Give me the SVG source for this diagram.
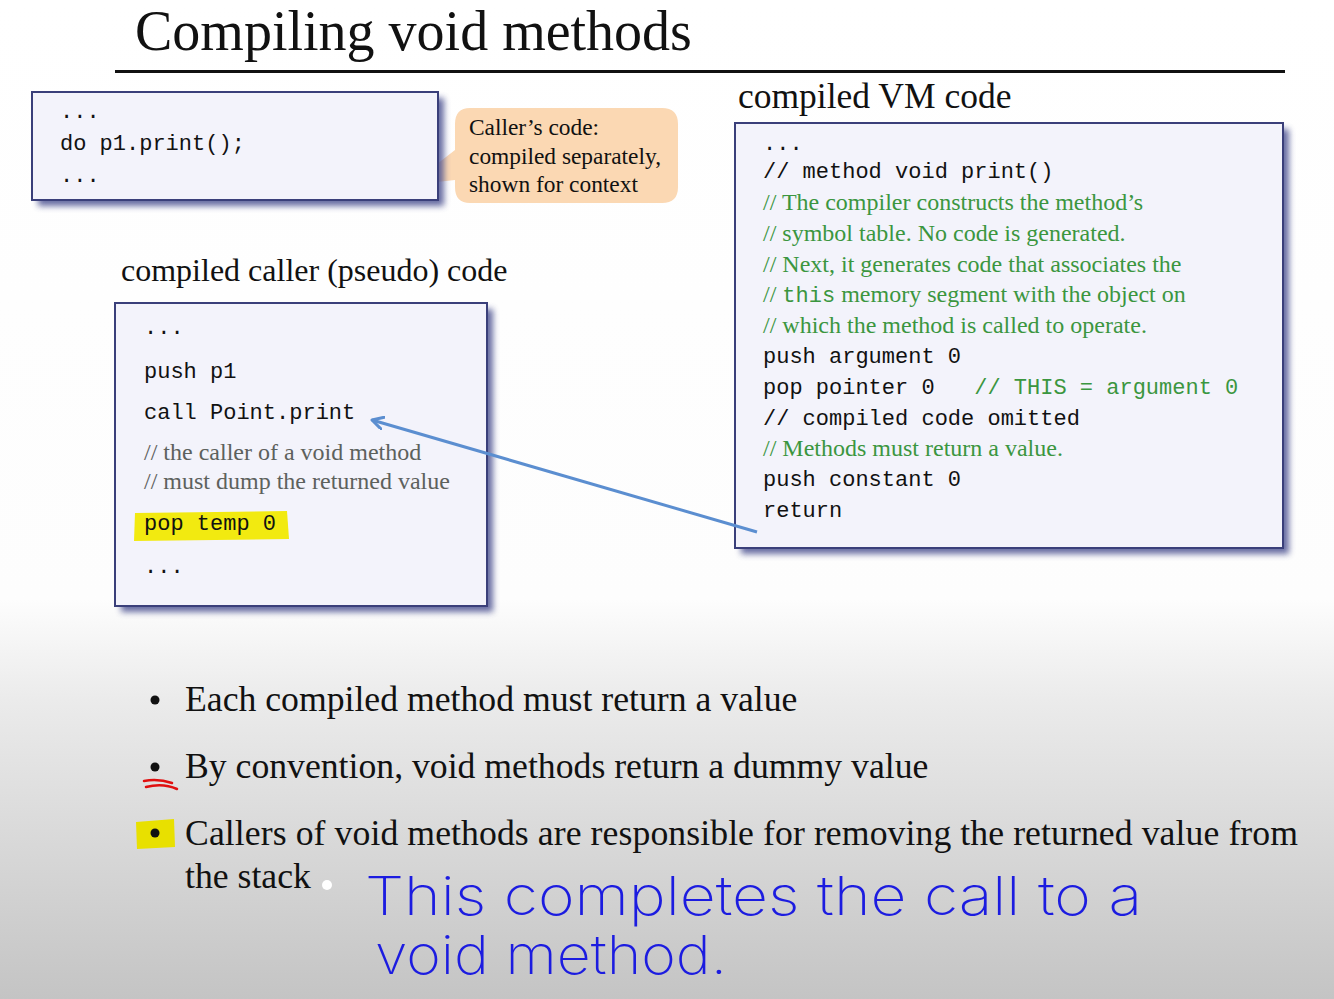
<svg xmlns="http://www.w3.org/2000/svg" width="1334" height="999" viewBox="0 0 1334 999">
<defs>
<linearGradient id="bg" x1="0" y1="0" x2="0" y2="1">
<stop offset="0" stop-color="#ffffff"/>
<stop offset="0.6" stop-color="#fdfdfd"/>
<stop offset="0.7" stop-color="#ebebeb"/>
<stop offset="1" stop-color="#c4c4c4"/>
</linearGradient>
<filter id="blur" x="-10%" y="-10%" width="120%" height="120%"><feGaussianBlur stdDeviation="3"/></filter>
<marker id="ah" markerWidth="14" markerHeight="14" refX="12" refY="7" orient="auto" markerUnits="userSpaceOnUse">
<path d="M1,1 L12,7 L1,13" fill="none" stroke="#5b8ed0" stroke-width="3" stroke-linecap="round" stroke-linejoin="round"/>
</marker>
<style>
text{white-space:pre}
.shadow{fill:#4e5392;opacity:.85;filter:url(#blur)}
.box{fill:#f3f3fb;stroke:#3a3f7a;stroke-width:2}
.mono{font-family:"Liberation Mono","DejaVu Sans Mono",monospace;font-size:22px;fill:#111}
.serif{font-family:"Liberation Serif","Times New Roman",serif;fill:#111}
.gc{font-family:"Liberation Serif",serif;font-size:24px;fill:#3b963f}
.gm{font-family:"Liberation Mono",monospace;font-size:22px;fill:#3b963f}
.gray{font-family:"Liberation Serif",serif;font-size:24px;fill:#5d615d}
.bul{font-family:"Liberation Serif",serif;font-size:35.7px;fill:#111}
.hand{font-family:Inter,"Open Sans","DejaVu Sans",sans-serif;font-weight:200;font-size:54px;fill:#1c1ce0}
</style>
</defs>
<rect width="1334" height="999" fill="url(#bg)"/>

<text class="serif" x="135" y="50" font-size="56">Compiling void methods</text>
<rect x="115" y="70" width="1170" height="3" fill="#111"/>

<g id="callout">
<path d="M470,108 H662 Q678,108 678,124 V187 Q678,203 662,203 H470 Q455,203 455,187 V180 L410,185 L455,150 V124 Q455,108 470,108 Z" fill="#fbd8b3"/>
<text class="serif" font-size="23.4"><tspan x="469" y="135">Caller’s code:</tspan><tspan x="469" y="164">compiled separately,</tspan><tspan x="469" y="192">shown for context</tspan></text>
</g>

<g id="caller-source">
<rect class="shadow" x="38" y="98" width="406" height="108"/>
<rect class="box" x="32" y="92" width="406" height="108"/>
<text class="mono"><tspan x="60" y="118">...</tspan><tspan x="60" y="150">do p1.print();</tspan><tspan x="60" y="182">...</tspan></text>
</g>

<text class="serif" x="738" y="108" font-size="35.5">compiled VM code</text>
<g id="vm-code">
<rect class="shadow" x="741" y="129" width="548" height="425"/>
<rect class="box" x="735" y="123" width="548" height="425"/>
<text class="mono" x="763" y="150">...</text>
<text class="mono" x="763" y="178">// method void print()</text>
<text class="gc" x="763" y="210">// The compiler constructs the method’s</text>
<text class="gc" x="763" y="241">// symbol table. No code is generated.</text>
<text class="gc" x="763" y="272">// Next, it generates code that associates the</text>
<text class="gc" x="763" y="302">// <tspan class="gm">this</tspan> memory segment with the object on</text>
<text class="gc" x="763" y="333">// which the method is called to operate.</text>
<text class="mono" x="763" y="363">push argument 0</text>
<text class="mono" x="763" y="394">pop pointer 0   <tspan class="gm">// THIS = argument 0</tspan></text>
<text class="mono" x="763" y="425">// compiled code omitted</text>
<text class="gc" x="763" y="456">// Methods must return a value.</text>
<text class="mono" x="763" y="486">push constant 0</text>
<text class="mono" x="763" y="517">return</text>
</g>

<text class="serif" x="121" y="281" font-size="32">compiled caller (pseudo) code</text>
<g id="caller-compiled">
<rect class="shadow" x="121" y="309" width="372" height="303"/>
<rect class="box" x="115" y="303" width="372" height="303"/>
<path d="M135,513 L287,511 L289,539 L134,541 Z" fill="#f2ea10"/>
<text class="mono" x="144" y="334">...</text>
<text class="mono" x="144" y="378">push p1</text>
<text class="mono" x="144" y="419">call Point.print</text>
<text class="gray" x="144" y="460">// the caller of a void method</text>
<text class="gray" x="144" y="489">// must dump the returned value</text>
<text class="mono" x="144" y="530">pop temp 0</text>
<text class="mono" x="144" y="573">...</text>
</g>

<g id="connectors">
<line x1="757" y1="532" x2="372" y2="420" stroke="#5b8ed0" stroke-width="3" marker-end="url(#ah)"/>
</g>

<g id="bullets">
<path d="M136,822 L174,819 L175,847 L137,849 Z" fill="#e8e000"/>
<circle cx="155" cy="700" r="4.5" fill="#111"/>
<circle cx="155" cy="767" r="4.5" fill="#111"/>
<circle cx="155" cy="833" r="4.5" fill="#111"/>
<text class="bul" x="185" y="711">Each compiled method must return a value</text>
<text class="bul" x="185" y="778">By convention, void methods return a dummy value</text>
<text class="bul" x="185" y="845" textLength="1113">Callers of void methods are responsible for removing the returned value from</text>
<text class="bul" x="185" y="888">the stack</text>
<circle cx="327" cy="885" r="5" fill="#ffffff"/>
<path d="M144,781 C155,779 166,781 172,783 M146,787 C158,784 168,785 177,789" fill="none" stroke="#e01010" stroke-width="2.5" stroke-linecap="round"/>
</g>

<g id="handwriting">
<text class="hand" x="365" y="915" textLength="777" lengthAdjust="spacingAndGlyphs">This completes the call to a</text>
<text class="hand" x="375" y="974" textLength="352" lengthAdjust="spacingAndGlyphs">void method.</text>
</g>
</svg>
